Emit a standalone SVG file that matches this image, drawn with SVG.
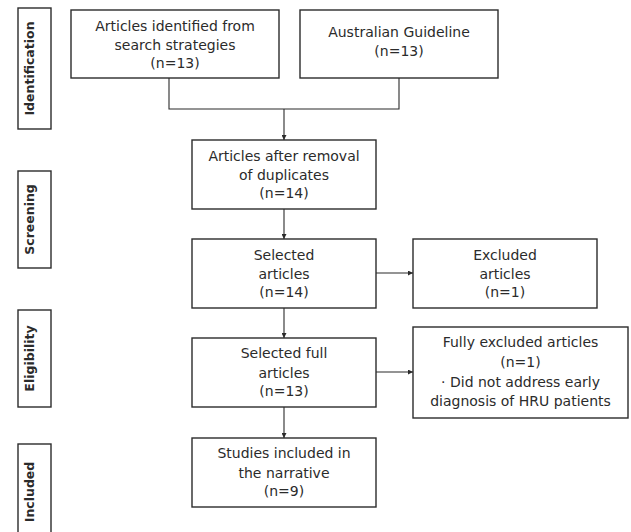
<svg xmlns="http://www.w3.org/2000/svg" width="631" height="532" viewBox="0 0 631 532">
<defs>
<style>
.box{fill:#fff;stroke:#2b2b2b;stroke-width:1.4}
.t{font-family:"DejaVu Sans",sans-serif;font-size:14px;fill:#2b2b2b;text-anchor:middle}
.s{font-family:"DejaVu Sans",sans-serif;font-size:12.5px;font-weight:bold;fill:#2b2b2b;text-anchor:middle}
.c{fill:none;stroke:#2b2b2b;stroke-width:1.1}
</style>
<marker id="ah" viewBox="0 0 6 6" refX="6" refY="3" markerWidth="5" markerHeight="5" orient="auto" markerUnits="userSpaceOnUse">
<path d="M0,0 L6,3 L0,6 z" fill="#2b2b2b"/>
</marker>
</defs>
<g id="stage-identification"><rect class="box" x="18" y="8" width="33" height="121"/><text class="s" transform="translate(33.5,68.5) rotate(-90)">Identification</text></g>
<g id="stage-screening"><rect class="box" x="18" y="171" width="33" height="97"/><text class="s" transform="translate(33.5,219.5) rotate(-90)">Screening</text></g>
<g id="stage-eligibility"><rect class="box" x="18" y="310" width="33" height="97"/><text class="s" transform="translate(33.5,358.5) rotate(-90)">Eligibility</text></g>
<g id="stage-included"><rect class="box" x="18" y="444" width="33" height="97"/><text class="s" transform="translate(33.5,492) rotate(-90)">Included</text></g>
<g id="connectors">
<path class="c" d="M169,78 V109 H399 V78"/>
<path class="c" d="M284,109 V140" marker-end="url(#ah)"/>
<path class="c" d="M284,209 V239" marker-end="url(#ah)"/>
<path class="c" d="M284,308 V338" marker-end="url(#ah)"/>
<path class="c" d="M284,407 V438" marker-end="url(#ah)"/>
<path class="c" d="M376,273 H413" marker-end="url(#ah)"/>
<path class="c" d="M376,372 H413" marker-end="url(#ah)"/>
</g>
<g id="n-search"><rect class="box" x="71" y="10" width="208" height="68"/><text class="t" x="175" y="31">Articles identified from</text><text class="t" x="175" y="50">search strategies</text><text class="t" x="175" y="68">(n=13)</text></g>
<g id="n-guideline"><rect class="box" x="300" y="10" width="198" height="68"/><text class="t" x="399" y="37">Australian Guideline</text><text class="t" x="399" y="56">(n=13)</text></g>
<g id="n-dedup"><rect class="box" x="192" y="140" width="184" height="69"/><text class="t" x="284" y="161">Articles after removal</text><text class="t" x="284" y="180">of duplicates</text><text class="t" x="284" y="198">(n=14)</text></g>
<g id="n-selected"><rect class="box" x="192" y="239" width="184" height="69"/><text class="t" x="284" y="260">Selected</text><text class="t" x="284" y="279">articles</text><text class="t" x="284" y="297">(n=14)</text></g>
<g id="n-excluded"><rect class="box" x="413" y="239" width="184" height="69"/><text class="t" x="505" y="260">Excluded</text><text class="t" x="505" y="279">articles</text><text class="t" x="505" y="297">(n=1)</text></g>
<g id="n-full"><rect class="box" x="192" y="338" width="184" height="69"/><text class="t" x="284" y="358">Selected full</text><text class="t" x="284" y="378">articles</text><text class="t" x="284" y="396">(n=13)</text></g>
<g id="n-fullexcl"><rect class="box" x="413" y="327" width="215" height="91"/><text class="t" x="520.5" y="347">Fully excluded articles</text><text class="t" x="520.5" y="367">(n=1)</text><text class="t" x="520.5" y="387">· Did not address early</text><text class="t" x="520.5" y="406">diagnosis of HRU patients</text></g>
<g id="n-included"><rect class="box" x="192" y="438" width="184" height="69"/><text class="t" x="284" y="458">Studies included in</text><text class="t" x="284" y="478">the narrative</text><text class="t" x="284" y="496">(n=9)</text></g>
</svg>
